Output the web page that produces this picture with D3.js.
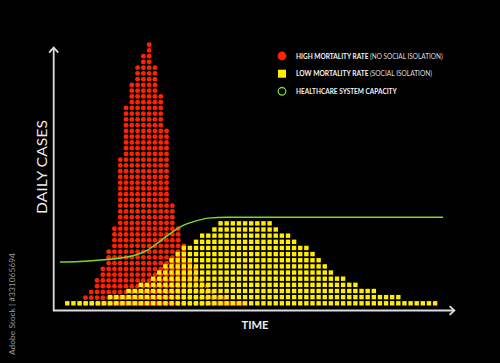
<!DOCTYPE html>
<html lang="en">
<head>
<meta charset="UTF-8">
<title>Daily cases</title>
<script src="https://d3js.org/d3.v7.min.js"></script>
<style>
    html, body { margin: 0; padding: 0; background: #000; }
    svg { display: block; }
    text { font-family: Lato, "Open Sans", sans-serif; }
</style>
</head>
<body>
<div id="chart"></div>
<script>
// dots per day, high mortality curve (no social isolation)
var redCases = [1, 2, 3, 5, 7, 10, 14, 26, 35, 39, 42, 44, 46, 42, 37, 31, 18, 14, 11, 8, 7, 5, 4, 3, 2, 2, 1, 1, 1];

// squares per day, low mortality curve (social isolation)
var yellowCases = [1, 1, 1, 1, 1, 1, 1, 2, 2, 2, 3, 3, 4, 4, 5, 6, 7, 8, 9, 10,
    10, 11, 12, 12, 13, 14, 14, 14, 14, 14, 14, 14, 14, 14, 13, 12, 12, 11, 10, 10,
    9, 8, 7, 6, 5, 5, 4, 4, 3, 3, 3, 2, 2, 2, 2, 1, 1, 1, 1, 1, 1];

// healthcare capacity (time in yellow-day units, level in square rows)
var capacityTime  = [-1.2, 2, 5, 8, 11, 13, 15, 17, 19, 21, 23, 26, 61.3];
var capacityLevel = [6.7, 6.8, 7.0, 7.3, 7.8, 8.6, 10.0, 11.5, 12.7, 13.4, 13.85, 14.0, 14.0];

var legendBold = ["HIGH MORTALITY RATE", "LOW MORTALITY RATE", "HEALTHCARE SYSTEM CAPACITY"];
var legendNote = ["(NO SOCIAL ISOLATION)", "(SOCIAL ISOLATION)", ""];

var width = 500, height = 363;
var RED = "#ff2200", YELLOW = "#ffee00", GREEN = "#7ad82e", AXIS = "#dcdcdc";

var svg = d3.select("#chart").append("svg")
    .attr("width", width)
    .attr("height", height);

svg.append("rect").attr("width", width).attr("height", height).attr("fill", "#000");

// scales
var redX = d3.scalePoint().domain(d3.range(redCases.length)).range([79.7, 241.8]);
var redY = d3.scaleLinear().domain([0, 45]).range([303.4, 44.65]);
var timeX = d3.scaleLinear().domain([0, yellowCases.length - 1]).range([67.3, 435.1]);
var rowY = d3.scaleLinear().domain([0, 13]).range([303.3, 223.35]);

// red dots
var redDots = [];
redCases.forEach(function(n, i) {
    d3.range(n).forEach(function(k) { redDots.push({i: i, k: k}); });
});
svg.append("g").selectAll("circle")
    .data(redDots)
    .join("circle")
    .attr("cx", function(d) { return redX(d.i); })
    .attr("cy", function(d) { return redY(d.k); })
    .attr("r", 2.45)
    .attr("fill", RED);

// yellow squares
var yelSquares = [];
yellowCases.forEach(function(n, i) {
    d3.range(n).forEach(function(k) { yelSquares.push({i: i, k: k}); });
});
var sq = 4.4;
svg.append("g").selectAll("rect")
    .data(yelSquares)
    .join("rect")
    .attr("x", function(d) { return timeX(d.i) - sq / 2; })
    .attr("y", function(d) { return rowY(d.k) - sq / 2; })
    .attr("width", sq)
    .attr("height", sq)
    .attr("fill", YELLOW);

// capacity line
var line = d3.line()
    .x(function(d) { return timeX(d[0]); })
    .y(function(d) { return rowY(d[1]); })
    .curve(d3.curveMonotoneX);

svg.append("path")
    .datum(d3.zip(capacityTime, capacityLevel))
    .attr("d", line)
    .attr("fill", "none")
    .attr("stroke", GREEN)
    .attr("stroke-width", 1.5);

// axes
var ox = 53.7, oy = 310.5;
var axes = svg.append("g")
    .attr("fill", "none")
    .attr("stroke", AXIS)
    .attr("stroke-width", 1.8);
axes.append("path").attr("d", "M" + ox + ",48 V" + oy + " H454");
axes.append("path").attr("d", "M" + (ox - 4.6) + ",52.6 L" + ox + ",47.6 L" + (ox + 4.6) + ",52.6");
axes.append("path").attr("d", "M449.6," + (oy - 4.4) + " L454.4," + oy + " L449.6," + (oy + 4.4));

svg.append("text")
    .attr("x", 255).attr("y", 328.5)
    .attr("text-anchor", "middle")
    .attr("fill", "#eeeeee")
    .attr("font-size", 12)
    .attr("font-weight", 700)
    .attr("textLength", 27)
    .attr("lengthAdjust", "spacingAndGlyphs")
    .text("TIME");

svg.append("text")
    .attr("transform", "translate(46.5,167) rotate(-90)")
    .attr("text-anchor", "middle")
    .attr("fill", "#eeeeee")
    .attr("font-size", 13)
    .attr("font-weight", 400)
    .attr("textLength", 94)
    .attr("lengthAdjust", "spacingAndGlyphs")
    .text("DAILY CASES");

// legend
var legend = svg.append("g");
var ly = [56, 73.7, 91.3];
legend.append("circle").attr("cx", 282).attr("cy", ly[0]).attr("r", 4.4).attr("fill", RED);
legend.append("rect").attr("x", 278).attr("y", ly[1] - 4).attr("width", 8).attr("height", 8).attr("fill", YELLOW);
legend.append("circle").attr("cx", 282).attr("cy", ly[2]).attr("r", 3.8)
    .attr("fill", "none").attr("stroke", GREEN).attr("stroke-width", 1.3);

var boldLen = [72.5, 72.5, 100.7];
var noteLen = [72.7, 62, 0];
legendBold.forEach(function(t, i) {
    legend.append("text")
        .attr("x", 296).attr("y", ly[i] + 2.6)
        .attr("fill", "#f2f2f2")
        .attr("font-size", 7)
        .attr("font-weight", 700)
        .attr("textLength", boldLen[i])
        .attr("lengthAdjust", "spacingAndGlyphs")
        .text(t);
    if (legendNote[i]) {
        legend.append("text")
            .attr("x", 296 + boldLen[i] + 1.5).attr("y", ly[i] + 2.6)
            .attr("fill", "#dddddd")
            .attr("font-size", 7)
            .attr("textLength", noteLen[i])
            .attr("lengthAdjust", "spacingAndGlyphs")
            .text(legendNote[i]);
    }
});

// stock id on the left edge
svg.append("text")
    .attr("transform", "translate(15,304) rotate(-90)")
    .attr("fill", "#9a9a9a")
    .attr("font-size", 7.5)
    .attr("text-anchor", "middle")
    .attr("textLength", 102)
    .attr("lengthAdjust", "spacingAndGlyphs")
    .text("Adobe Stock | #331065694");
</script>
</body>
</html>
